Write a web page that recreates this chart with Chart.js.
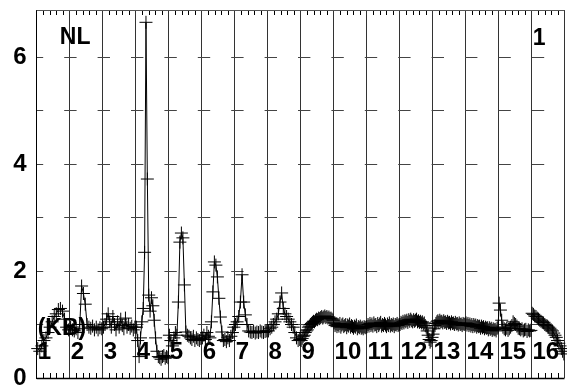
<!DOCTYPE html>
<html>
<head>
<meta charset="utf-8">
<script src="https://cdn.jsdelivr.net/npm/chart.js@4.4.1/dist/chart.umd.min.js"></script>
<style>
  html, body { margin: 0; padding: 0; background: #fff; overflow: hidden; }
  #wrap { width: 567px; height: 388px; overflow: hidden; }
</style>
</head>
<body>
<div id="wrap"><canvas id="chart" width="572" height="388"></canvas></div>
<script>
// chromosome names shown inside the plot
const chromLabels = ['1', '2', '3', '4', '5', '6', '7', '8', '9', '10', '11', '12', '13', '14', '15', '16'];

// ratio values, one array per chromosome (left to right)
const chr1 = [0.55, 0.5, 0.6, 0.7, 0.75, 0.85, 0.95, 1.05, 1.15, 1.2, 1.28, 1.3, 1.25, 1.1, 0.95, 0.9];
const chr2 = [0.95, 0.9, 0.88, 0.92, 0.85, 1.0, 1.72, 1.58, 1.38, 1.0, 0.95, 0.93, 0.97, 0.9, 0.95, 0.9, 0.94, 0.92];
const chr3 = [0.95, 1.0, 1.1, 1.2, 1.05, 0.95, 1.15, 1.0, 0.9, 1.05, 0.95, 1.1, 0.98, 0.92, 1.12, 0.95, 1.0, 0.93, 0.97, 0.9, 0.95];
const chr4 = [0.95, 0.7, 0.4, 0.75, 1.05, 1.3, 2.35, 6.65, 3.72, 1.55, 1.25, 1.5, 1.35, 1.08, 0.75, 0.5, 0.4, 0.38, 0.35, 0.4, 0.42, 0.37, 0.4, 0.38];
const chr5 = [0.8, 0.7, 0.6, 0.75, 0.85, 0.8, 1.42, 2.54, 2.71, 2.62, 1.74, 0.86, 0.8, 0.78, 0.75, 0.72, 0.78, 0.7, 0.75, 0.72, 0.7, 0.74];
const chr6 = [0.75, 0.8, 0.72, 0.85, 0.78, 0.75, 1.05, 1.61, 2.17, 2.11, 1.89, 1.49, 1.14, 0.86, 0.7, 0.72, 0.68, 0.75, 0.7, 0.78, 0.85, 0.95];
const chr7 = [1.0, 1.05, 1.15, 1.42, 1.93, 1.42, 1.18, 1.0, 0.88, 0.86, 0.85, 0.87, 0.84, 0.86, 0.85, 0.88, 0.86, 0.85, 0.87, 0.88];
const chr8 = [0.88, 0.92, 0.95, 1.0, 1.05, 1.1, 1.2, 1.42, 1.59, 1.3, 1.2, 1.15, 1.1, 1.05, 1.0, 0.95, 0.85, 0.75, 0.7, 0.72];
const chr9 = [0.7, 0.74, 0.78, 0.8, 0.85, 0.88, 0.9, 0.95, 0.97, 1.0, 1.02, 1.04, 1.06, 1.05, 1.08, 1.1,
              1.09, 1.12, 1.11, 1.13, 1.15, 1.12, 1.14, 1.16, 1.13, 1.15, 1.12, 1.14, 1.11, 1.12, 1.1, 1.08];
const chr10 = [1.03, 0.98, 1.01, 0.96, 1.0, 0.97, 1.02, 0.95, 0.99, 1.01, 0.96, 0.98, 1.0, 0.94, 0.99, 0.97, 1.01,
               0.95, 0.98, 0.96, 0.93, 0.97, 0.95, 0.99, 0.92, 0.96, 0.94, 0.97, 0.93, 0.95, 0.92, 0.96, 0.94, 0.95];
const chr11 = [0.96, 1.0, 0.97, 1.02, 0.98, 1.01, 0.97, 1.03, 0.99, 1.0, 0.96, 1.02, 0.98, 1.01, 1.04, 0.97, 1.0,
               0.98, 1.02, 0.99, 0.96, 1.01, 0.98, 1.03, 0.97, 1.0, 0.98, 1.01, 0.96, 1.0, 0.99, 1.02, 0.98, 1.0];
const chr12 = [1.0, 1.04, 1.02, 1.06, 1.03, 1.07, 1.05, 1.08, 1.04, 1.09, 1.06, 1.1, 1.07, 1.05, 1.09, 1.06, 1.08,
               1.1, 1.05, 1.07, 1.04, 1.06, 1.03, 1.05, 1.01, 1.03, 0.98, 0.95, 0.88, 0.8, 0.72, 0.67, 0.7, 0.76];
const chr13 = [0.82, 0.92, 0.98, 1.02, 1.05, 1.07, 1.04, 1.08, 1.05, 1.06, 1.03, 1.07, 1.04, 1.05, 1.02, 1.06, 1.03,
               1.04, 1.01, 1.05, 1.02, 1.03, 1.0, 1.04, 1.01, 1.02, 0.99, 1.03, 1.0, 1.01, 0.98, 1.02, 1.0, 1.01];
const chr14 = [1.03, 0.99, 1.02, 0.98, 1.01, 0.97, 1.0, 0.96, 1.0, 0.97, 0.99, 0.95, 0.98, 0.96, 0.97, 0.93, 0.97,
               0.94, 0.96, 0.92, 0.95, 0.93, 0.94, 0.9, 0.94, 0.91, 0.93, 0.89, 0.92, 0.9, 0.91, 0.88, 0.93, 0.95];
const chr15 = [1.4, 1.27, 1.08, 0.95, 0.92, 0.9, 0.93, 0.89, 0.92, 0.95, 0.98, 1.05, 1.02, 1.0, 0.97, 0.93,
               0.92, 0.9, 0.92, 0.88, 0.9, 0.91, 0.87, 0.9, 0.88, 0.89];
const chr16 = [1.21, 1.19, 1.16, 1.15, 1.12, 1.1, 1.08, 1.06, 1.04, 1.03, 1.0, 0.98, 0.97, 0.95, 0.93,
               0.9, 0.88, 0.84, 0.8, 0.76, 0.7, 0.65, 0.6, 0.55, 0.5, 0.45];

const cornerLeft = 'NL';
const cornerRight = '1';
const unitLabel = '(KB)';

const chromosomes = [chr1, chr2, chr3, chr4, chr5, chr6, chr7, chr8,
                     chr9, chr10, chr11, chr12, chr13, chr14, chr15, chr16];

// each chromosome gets one unit of x, its probes spread across it
const points = [];
chromosomes.forEach((vals, c) => {
  vals.forEach((v, i) => points.push({ x: c + (i + 0.5) / vals.length, y: v }));
});

const FONT = '"Liberation Sans", Arial, sans-serif';

// frame lines, inner minor ticks and the text labels
const framePlugin = {
  id: 'frame',
  afterDatasetsDraw(chart) {
    const { ctx, chartArea: a, scales: { x } } = chart;
    ctx.save();
    ctx.strokeStyle = '#000';
    ctx.lineWidth = 1;
    ctx.beginPath();
    for (let k = 1; k < 80; k++) {
      if (k % 5 === 0) continue;
      const px = Math.round(x.getPixelForValue(k / 5)) + 0.5;
      ctx.moveTo(px, a.bottom);
      ctx.lineTo(px, a.bottom - 5);
      ctx.moveTo(px, a.top);
      ctx.lineTo(px, a.top + 5);
    }
    ctx.stroke();

    ctx.strokeStyle = '#555';
    ctx.beginPath();
    ctx.moveTo(a.left, a.top + 0.5);
    ctx.lineTo(a.right, a.top + 0.5);
    ctx.stroke();

    ctx.strokeStyle = '#000';
    ctx.lineWidth = 1.5;
    ctx.beginPath();
    ctx.moveTo(a.left, a.bottom + 0.5);
    ctx.lineTo(a.right, a.bottom + 0.5);
    ctx.stroke();

    ctx.fillStyle = '#000';
    ctx.font = 'bold 24px ' + FONT;
    ctx.textAlign = 'left';
    ctx.textBaseline = 'alphabetic';
    chromLabels.forEach((t, i) => ctx.fillText(t, x.getPixelForValue(i) + 1, 359));
    ctx.font = 'bold 23px ' + FONT;
    ctx.fillText(cornerLeft, x.getPixelForValue(0.7), 44);
    ctx.fillText(cornerRight, x.getPixelForValue(15.04), 45);
    ctx.fillText(unitLabel, a.left + 1, 335);
    ctx.restore();
  }
};

new Chart(document.getElementById('chart'), {
  type: 'line',
  data: {
    datasets: [{
      data: points,
      borderColor: '#000',
      borderWidth: 1,
      tension: 0,
      pointStyle: 'cross',
      pointRadius: 6.5,
      pointBorderWidth: 1,
      pointBorderColor: '#000',
      pointBackgroundColor: '#000',
      clip: false
    }]
  },
  options: {
    responsive: false,
    animation: false,
    events: [],
    layout: { padding: { left: 0, top: 10, right: 1, bottom: 10 } },
    plugins: { legend: { display: false }, tooltip: { enabled: false } },
    scales: {
      x: {
        type: 'linear',
        min: 0,
        max: 16,
        ticks: { display: false, stepSize: 1 },
        grid: { color: '#333', lineWidth: 1, drawTicks: false },
        border: { display: false }
      },
      y: {
        min: 0,
        max: 6.88,
        afterFit: s => { s.width = 36.7; s.paddingTop = 0; s.paddingBottom = 0; },
        ticks: {
          stepSize: 1,
          includeBounds: false,
          padding: 10,
          color: '#000',
          font: { family: FONT, size: 24, weight: 'bold' },
          callback: v => (v % 2 === 0 ? String(v) : '')
        },
        grid: { color: '#444', lineWidth: 1, drawTicks: false },
        border: { display: true, color: '#000', width: 1, dash: [12.4, 21], dashOffset: 6.2 }
      }
    }
  },
  plugins: [framePlugin]
});
</script>
</body>
</html>
